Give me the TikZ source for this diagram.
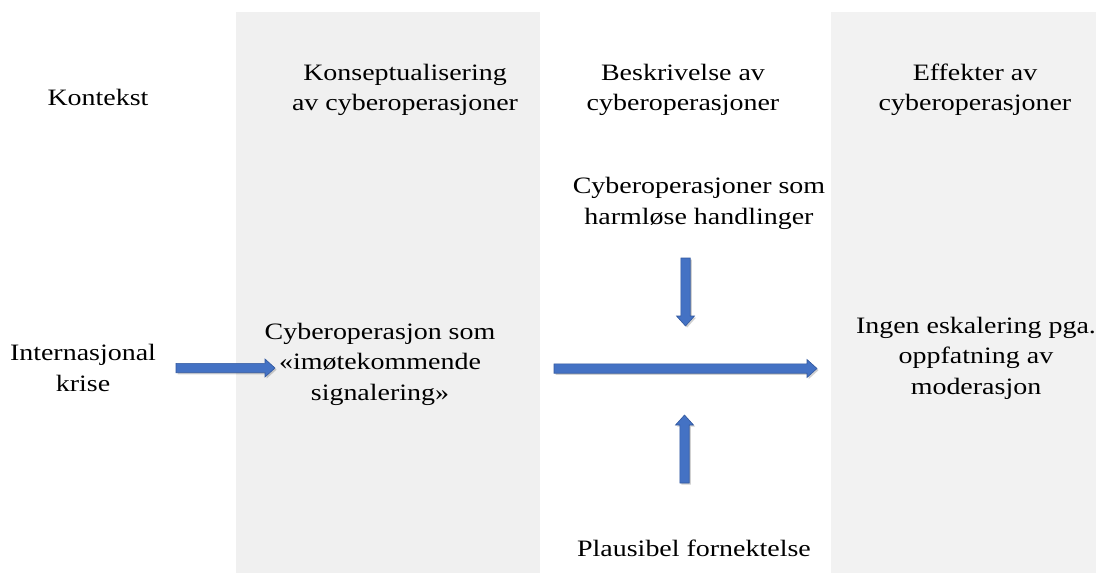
\documentclass[tikz,border=0pt]{standalone}
\usepackage{fontspec}
\setmainfont{Liberation Serif}[FakeStretch=1.19]
\usetikzlibrary{calc}
\definecolor{panelA}{RGB}{240,240,240}
\definecolor{panelB}{RGB}{242,242,242}
\definecolor{arrowfill}{RGB}{68,114,196}
\definecolor{arrowedge}{RGB}{50,88,158}

\begin{document}
\begin{tikzpicture}[x=1pt,y=-1pt,
  % labels are placed by the baseline of their last line
  txt/.style={align=center, anchor=base, inner sep=0pt,
    font=\fontsize{23.5}{30.5}\selectfont},
  % block arrow drawn as a polygon between two coordinates
  blockarrow/.style={fill=arrowfill, draw=arrowedge, line width=0.6pt, line join=miter,
    preaction={fill=black, opacity=0.18, transform canvas={xshift=1.6pt,yshift=-1.6pt}},
    to path={
      ($(\tikztostart)!4.7pt!90:(\tikztotarget)$)
      -- ($(\tikztotarget)!10pt!(\tikztostart)!4.7pt!90:(\tikztotarget)$)
      -- ($(\tikztotarget)!10pt!(\tikztostart)!9pt!90:(\tikztotarget)$)
      -- (\tikztotarget)
      -- ($(\tikztotarget)!10pt!(\tikztostart)!9pt!-90:(\tikztotarget)$)
      -- ($(\tikztotarget)!10pt!(\tikztostart)!4.7pt!-90:(\tikztotarget)$)
      -- ($(\tikztostart)!4.7pt!-90:(\tikztotarget)$)
      -- cycle
    }},
]
\useasboundingbox (0,0) rectangle (1096,573);

% shaded columns
\fill[panelA] (236,12.3) rectangle (539.5,573);
\fill[panelB] (831,12.3) rectangle (1096,573);

% column headings
\node[txt] (kontekst) at (98,105) {Kontekst};
\node[txt] (konsept) at (405,110.5) {Konseptualisering\\av cyberoperasjoner};
\node[txt] (beskriv) at (683,110.5) {Beskrivelse av\\cyberoperasjoner};
\node[txt] (effekt) at (975,110.5) {Effekter av\\cyberoperasjoner};

% content
\node[txt] (harmlos) at (699,224) {Cyberoperasjoner som\\harmløse handlinger};
\node[txt] (krise) at (83,391) {Internasjonal\\krise};
\node[txt] (signal) at (380,400) {Cyberoperasjon som\\«imøtekommende\\signalering»};
\node[txt] (ingen) at (976,394) {Ingen eskalering pga.\\oppfatning av\\moderasjon};
\node[txt] (plaus) at (694,556) {Plausibel fornektelse};

% arrow end points
\coordinate (a1s) at (176,368);
\coordinate (a1e) at (275,368);
\coordinate (a2s) at (554,368.5);
\coordinate (a2e) at (817,368.5);
\coordinate (a3s) at (685.5,258);
\coordinate (a3e) at (685.5,326);
\coordinate (a4s) at (684.5,483);
\coordinate (a4e) at (684.5,415);

\draw[blockarrow] (a1s) to (a1e);
\draw[blockarrow] (a2s) to (a2e);
\draw[blockarrow] (a3s) to (a3e);
\draw[blockarrow] (a4s) to (a4e);
\end{tikzpicture}
\end{document}
